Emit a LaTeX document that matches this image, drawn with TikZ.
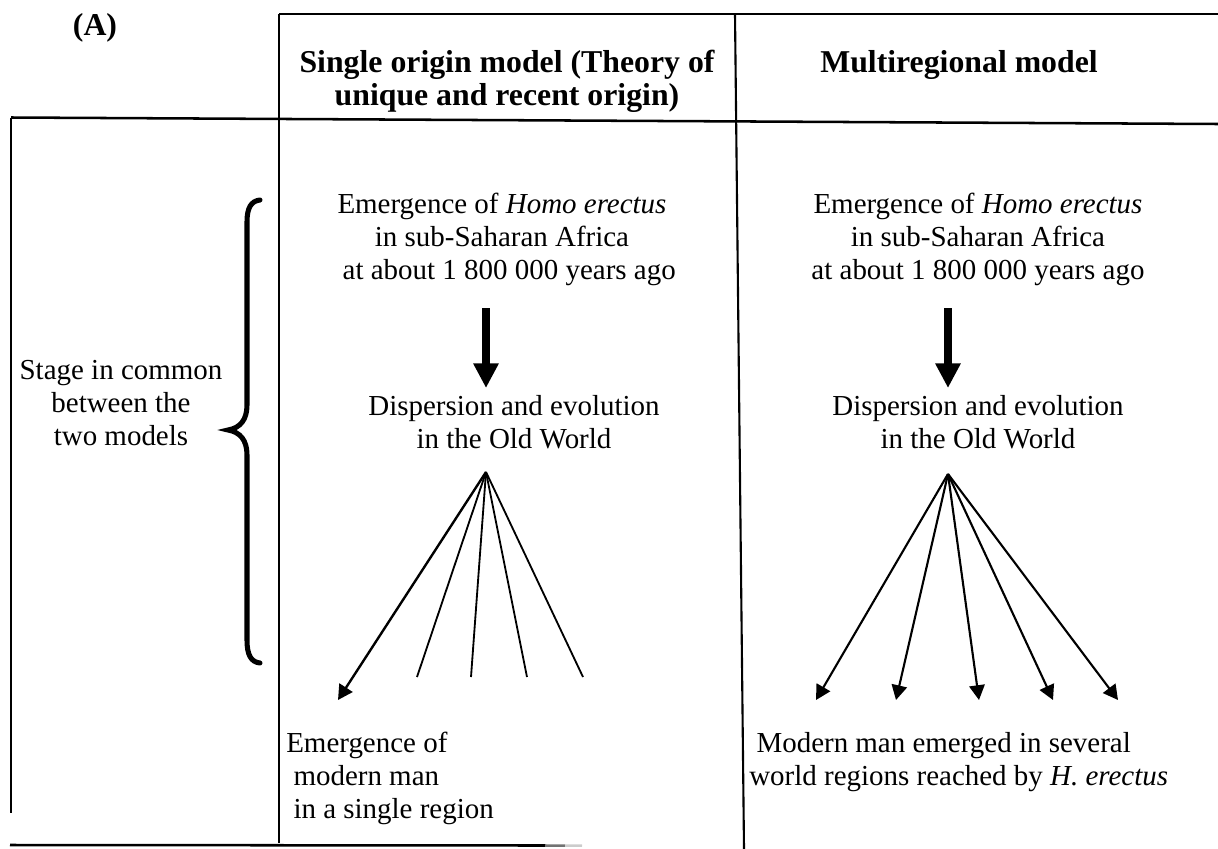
\documentclass[tikz,border=0pt]{standalone}
\usepackage{fontspec}
\setmainfont{Liberation Serif}
\usetikzlibrary{arrows.meta,positioning}

\begin{document}
\begin{tikzpicture}[x=0.025cm, y=-0.025cm,
  texte/.style={inner sep=0pt, align=center, font=\fontsize{20.6pt}{23.5pt}\selectfont},
  titre/.style={inner sep=0pt, align=center, font=\fontsize{22.6pt}{23.5pt}\selectfont\bfseries},
  cadre/.style={line width=1.8pt},
  fleche/.style={-{Triangle[length=10.5pt, width=11pt]}, line width=1.5pt},
  rayon/.style={line width=1.3pt},
  grosse/.style={-{Triangle[length=17.5pt, width=17pt]}, line width=5.6pt},
  accolade/.style={line width=3.6pt, line cap=round}]
\useasboundingbox (0,0) rectangle (1218,849);
% grille du tableau
\draw[cadre] (279,14) -- (1218,14);
\draw[cadre] (11,117.5) -- (1218,124);
\draw[cadre] (11,117.5) -- (11,813);
\draw[cadre] (279,14) -- (279,843);
\draw[line width=1.5pt] (735,14) -- (744,849);
\draw[cadre] (10,845) -- (545,845.5);
\draw[cadre, black!55] (545,845.5) -- (565,845.6);
\draw[cadre, black!20] (565,845.6) -- (582,845.7);
% en-tetes
\node[titre, anchor=base] (lettre) at (95,35) {(A)};
\node[titre, anchor=north] (unique) at (507,50) {Single origin model (Theory of\\unique and recent origin)};
\node[titre, anchor=base] (multi) at (959,72) {Multiregional model};
% colonne de gauche
\node[texte, anchor=north] (commun) at (121,360) {Stage in common\\between the\\two models};
\draw[accolade] (260,200) .. controls (251,201) and (247,208) .. (247,222) -- (247,405)
  .. controls (247,420) and (240,428) .. (228,430) .. controls (240,432) and (247,440) .. (247,455)
  -- (247,640) .. controls (247,655) and (251,662) .. (260,663);
% modele a origine unique
\node[texte, anchor=north] (erectusA) at (502,193) {Emergence of \textit{Homo erectus}\\in sub-Saharan Africa\\\hspace*{0.5em}at about 1 800 000 years ago};
\coordinate (hautA) at (486,308); \coordinate (basA) at (486,388);
\node[texte, anchor=north] (dispA) at (514,395) {Dispersion and evolution\\in the Old World};
\coordinate (sommetA) at (486,472);
\coordinate (a1) at (338,700); \coordinate (a2) at (417,677); \coordinate (a3) at (471,677); \coordinate (a4) at (527,677); \coordinate (a5) at (583,677);
\node[texte, anchor=north west, align=left] (regionA) at (286,732) {Emergence of\\\hspace*{0.25em}modern man\\\hspace*{0.25em}in a single region};
\draw[grosse] (hautA) -- (basA);
\draw[fleche, line width=1.7pt] (sommetA) -- (a1);
\draw[rayon] (sommetA) -- (a2); \draw[rayon] (sommetA) -- (a3); \draw[rayon] (sommetA) -- (a4); \draw[rayon] (sommetA) -- (a5);
% modele multiregional
\node[texte, anchor=north] (erectusB) at (978,193) {Emergence of \textit{Homo erectus}\\in sub-Saharan Africa\\at about 1 800 000 years ago};
\coordinate (hautB) at (948,308); \coordinate (basB) at (948,388);
\node[texte, anchor=north] (dispB) at (978,395) {Dispersion and evolution\\in the Old World};
\coordinate (sommetB) at (948,474);
\coordinate (b1) at (816,700); \coordinate (b2) at (896,700); \coordinate (b3) at (979,700); \coordinate (b4) at (1053,700); \coordinate (b5) at (1118,700);
\node[texte, anchor=north west, align=left] (regionB) at (749,732) {\hspace*{0.25em}Modern man emerged in several\\world regions reached by \textit{H. erectus}};
\draw[grosse] (hautB) -- (basB);
\draw[fleche] (sommetB) -- (b1); \draw[fleche] (sommetB) -- (b2); \draw[fleche] (sommetB) -- (b3); \draw[fleche] (sommetB) -- (b4); \draw[fleche] (sommetB) -- (b5);
\end{tikzpicture}
\end{document}
